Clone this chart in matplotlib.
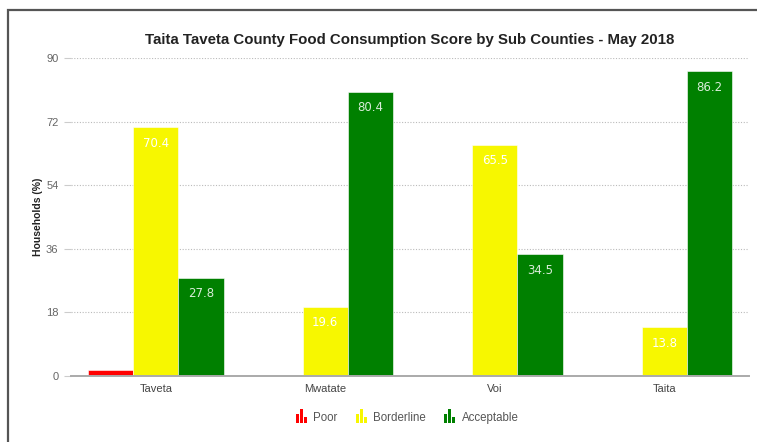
import matplotlib
matplotlib.use("Agg")
import matplotlib.pyplot as plt
import numpy as np
from matplotlib.patches import Rectangle
from matplotlib.legend_handler import HandlerBase

# Food consumption score by sub county (% of households)
sub_counties = ["Taveta", "Mwatate", "Voi", "Taita"]
poor = [1.8, 0.0, 0.0, 0.0]
borderline = [70.4, 19.6, 65.5, 13.8]
acceptable = [27.8, 80.4, 34.5, 86.2]
series_names = ["Poor", "Borderline", "Acceptable"]
y_ticks = [0, 18, 36, 54, 72, 90]

colors = ["#ff0000", "#f7f700", "#008000"]
label_colors = ["#ffffff", "#ffffff", "#d8ecd8"]

plt.rcParams["font.family"] = ["Liberation Sans", "DejaVu Sans"]

fig = plt.figure(figsize=(7.57, 4.42), dpi=100)
ax = fig.add_axes([71 / 757, 1 - 376 / 442, (749 - 71) / 757, (376 - 58) / 442])

# outer frame
fig.patches.append(Rectangle((8 / 757, -0.2), 1.2, 0.2 + 1 - 10 / 442,
                             transform=fig.transFigure, fill=False,
                             edgecolor="#555555", linewidth=1.6))

x = np.arange(len(sub_counties))
width = 0.267
offsets = [-width, 0, width]
series = [poor, borderline, acceptable]

for vals, off, col, lcol, name in zip(series, offsets, colors, label_colors, series_names):
    bars = ax.bar(x + off, vals, width, color=col, edgecolor="#ffffff",
                  linewidth=0.4, label=name, zorder=3)
    for b, v in zip(bars, vals):
        if v >= 5:
            ax.annotate(f"{v:.1f}", (b.get_x() + b.get_width() / 2, v),
                        xytext=(0, -11.5), textcoords="offset points",
                        ha="center", va="center", color=lcol, fontsize=8.5,
                        family="DejaVu Sans", zorder=4)

ax.set_xlim(-0.5, len(sub_counties) - 0.5)
ax.set_ylim(0, 90)
ax.set_yticks(y_ticks)
ax.set_xticks(x)
ax.set_xticklabels(sub_counties)
ax.tick_params(axis="x", length=0, pad=6, labelsize=8, labelcolor="#444444")
ax.tick_params(axis="y", length=5, color="#cccccc", width=0.8, pad=4,
               labelsize=8, labelcolor="#666666")
ax.grid(axis="y", linestyle=(0, (1, 1.5)), color="#bbbbbb", linewidth=0.8, zorder=0)
for s in ["top", "right", "left"]:
    ax.spines[s].set_visible(False)
ax.spines["bottom"].set_color("#aaaaaa")
ax.spines["bottom"].set_linewidth(1.4)
ax.spines["bottom"].set_zorder(5)

fig.text(410 / 757, 1 - 40 / 442, "Taita Taveta County Food Consumption Score by Sub Counties - May 2018",
         ha="center", va="center", fontsize=10.8, fontweight="bold", color="#222222")
fig.text(38 / 757, 1 - 217 / 442, "Households (%)", rotation=90, ha="center",
         va="center", fontsize=7.5, fontweight="bold", color="#222222")


class MiniBarsHandler(HandlerBase):
    """Legend key drawn as three small bars."""
    def create_artists(self, legend, orig_handle, xdescent, ydescent, width, height, fontsize, trans):
        col = orig_handle.get_facecolor()
        w = width / 3.9
        hs = [0.95, 1.45, 0.6]
        arts = []
        for i, h in enumerate(hs):
            r = Rectangle((-xdescent + i * w * 1.4, -ydescent - 1), w, height * h,
                          facecolor=col, edgecolor="none", transform=trans)
            arts.append(r)
        return arts


handles = [Rectangle((0, 0), 1, 1, facecolor=c) for c in colors]
leg = fig.legend(handles, series_names, loc="center", bbox_to_anchor=(407 / 757, 1 - 418 / 442),
                 ncol=3, frameon=False, fontsize=8.3, handlelength=1.0, handleheight=0.9,
                 handletextpad=0.5, columnspacing=1.6,
                 handler_map={Rectangle: MiniBarsHandler()})
for t in leg.get_texts():
    t.set_color("#555555")

fig.savefig("out.png", dpi=100)
